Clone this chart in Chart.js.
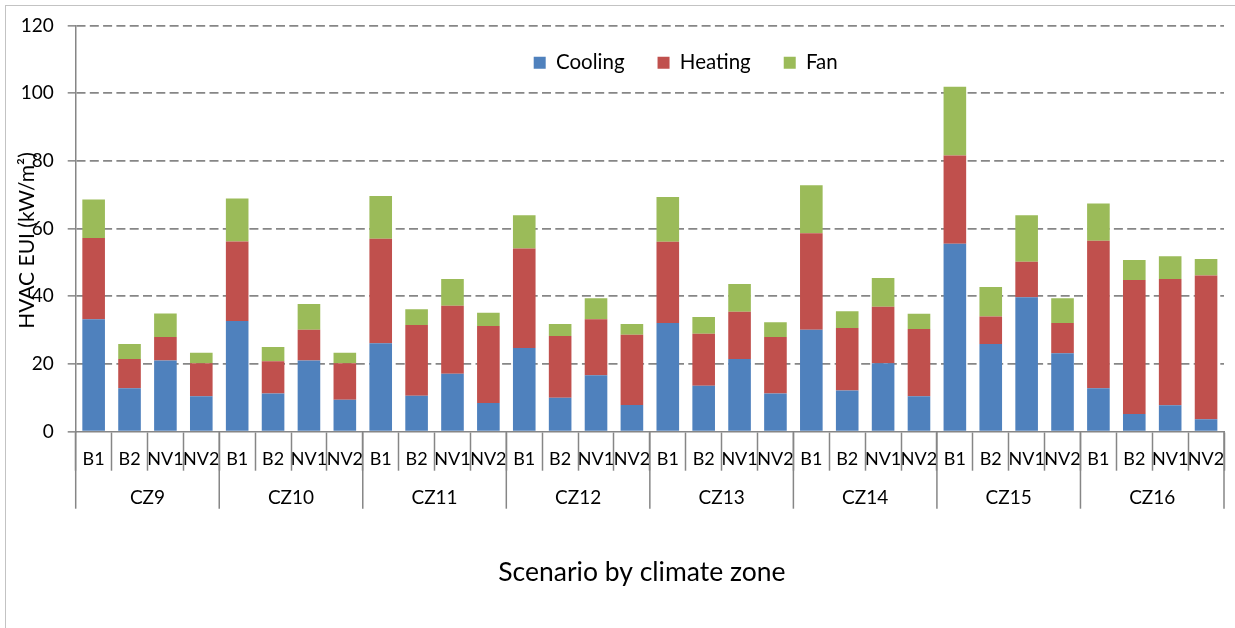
<!DOCTYPE html>
<html>
<head>
<meta charset="utf-8">
<script src="https://cdn.jsdelivr.net/npm/chart.js@4.4.1/dist/chart.umd.min.js"></script>
<style>
html,body{margin:0;padding:0;background:#fff;}
#wrap{position:relative;width:1235px;height:628px;overflow:hidden;background:#fff;}
#frame{position:absolute;left:4.5px;top:5px;width:1260px;height:660px;border-left:1.5px solid #c3c3c3;border-top:1.5px solid #c3c3c3;}
canvas{position:absolute;left:0;top:0;}
</style>
</head>
<body>
<div id="wrap"><div id="frame"></div><canvas id="c" width="1235" height="628"></canvas></div>
<script>
// ---- data ----
const zones = ['CZ9','CZ10','CZ11','CZ12','CZ13','CZ14','CZ15','CZ16'];
const scenarios = ['B1','B2','NV1','NV2'];
// order: for each zone, B1, B2, NV1, NV2
const cooling = [33.2,12.8,21.0,10.5, 32.7,11.3,21.0,9.4, 26.1,10.6,17.1,8.5, 24.7,10.0,16.7,7.9,
                 32.1,13.6,21.5,11.3, 30.1,12.2,20.2,10.5, 55.5,25.9,39.7,23.2, 12.8,5.2,7.8,3.7];
const heating = [24.0,8.7,7.0,9.7, 23.5,9.5,9.1,10.8, 30.9,20.9,20.1,22.7, 29.4,18.3,16.5,20.7,
                 24.0,15.3,13.9,16.7, 28.5,18.4,16.7,19.8, 26.1,8.1,10.5,8.9, 43.6,39.6,37.3,42.4];
const fan     = [11.4,4.4,6.9,3.1, 12.7,4.2,7.6,3.1, 12.6,4.7,7.9,3.9, 9.8,3.5,6.2,3.2,
                 13.2,5.0,8.2,4.3, 14.2,5.0,8.5,4.5, 20.3,8.7,13.7,7.3, 11.0,5.9,6.7,4.9];
const yTicks = [0,20,40,60,80,100,120];

const catLabels = [];
zones.forEach(z => scenarios.forEach(s => catLabels.push(s)));

const FONT = 'Lato, "Open Sans", sans-serif';
const GRID = '#868686';

// shift an axis title by (dx, dy) without changing its text
function shiftTitle(scale, dx, dy) {
  if (scale._titleShifted) return;
  const orig = Object.getPrototypeOf(scale).drawTitle;
  scale.drawTitle = function () {
    this.ctx.save();
    this.ctx.translate(dx, dy);
    orig.call(this);
    this.ctx.restore();
  };
  scale._titleShifted = true;
}

const groupPlugin = {
  id: 'groups',
  afterDraw(chart) {
    const xs = chart.scales.x;
    const ctx = chart.ctx;
    const n = scenarios.length;
    const half = (xs.getPixelForValue(1) - xs.getPixelForValue(0)) / 2;
    ctx.save();
    ctx.strokeStyle = GRID;
    ctx.lineWidth = 1.5;
    for (let g = 0; g <= zones.length; g++) {
      const idx = g * n;
      const px = idx < catLabels.length ? xs.getPixelForValue(idx) - half : xs.getPixelForValue(idx - 1) + half;
      ctx.beginPath();
      ctx.moveTo(px, xs.top);
      ctx.lineTo(px, xs.top + 77);
      ctx.stroke();
    }
    ctx.fillStyle = '#000';
    ctx.font = '19px ' + FONT;
    ctx.textAlign = 'center';
    ctx.textBaseline = 'middle';
    zones.forEach((z, g) => {
      const a = xs.getPixelForValue(g * n), b = xs.getPixelForValue(g * n + n - 1);
      ctx.fillText(z, (a + b) / 2, xs.top + 66);
    });
    ctx.restore();
  }
};

const legendShift = {
  id: 'legendShift',
  afterLayout(chart) {
    const L = chart.legend;
    if (!L || !L.lineWidths) return;
    const pad = L.options.labels.padding;
    const x0 = (L.left + pad + L.right - L.lineWidths[0]) / 2;
    const dx = (chart.chartArea.left + 458) - x0;
    L.left += dx;
    L.right += dx;
    L.top = 52.5 - pad;
    L.bottom = L.top + 100;
  }
};

new Chart(document.getElementById('c'), {
  type: 'bar',
  data: {
    labels: catLabels,
    datasets: [
      { label: 'Cooling', data: cooling, backgroundColor: '#4F81BD' },
      { label: 'Heating', data: heating, backgroundColor: '#C0504D' },
      { label: 'Fan', data: fan, backgroundColor: '#9BBB59' }
    ]
  },
  options: {
    responsive: false,
    animation: false,
    layout: { padding: { left: 8, right: 11, top: 24, bottom: 0 } },
    datasets: { bar: { categoryPercentage: 1, barPercentage: 0.63 } },
    plugins: {
      legend: {
        position: 'top',
        maxHeight: 1,
        labels: { boxWidth: 12, boxHeight: 12, padding: 33, color: '#000', font: { family: FONT, size: 20.5 } }
      },
      tooltip: { enabled: false }
    },
    scales: {
      x: {
        stacked: true,
        offset: true,
        grid: { display: true, drawOnChartArea: false, drawTicks: true, tickLength: 39, tickColor: GRID, tickWidth: 1.5, offset: true },
        border: { display: true, color: GRID, width: 1.5 },
        ticks: { color: '#000', font: { family: FONT, size: 18 }, padding: -22, maxRotation: 0, minRotation: 0, autoSkip: false },
        title: { display: true, text: 'Scenario by climate zone', color: '#000', font: { family: FONT, size: 26.5 }, padding: { top: 0, bottom: 40 } },
        afterFit(s) { s.height = 628 - 431.7; shiftTitle(s, -8, 0); }
      },
      y: {
        stacked: true,
        min: yTicks[0],
        max: yTicks[yTicks.length - 1],
        afterBuildTicks(s) { s.ticks = yTicks.map(v => ({ value: v })); },
        ticks: { color: '#000', font: { family: FONT, size: 19 }, padding: 14 },
        grid: {
          color: c => (c.tick && c.tick.value === 0) ? 'rgba(0,0,0,0)' : GRID,
          lineWidth: 1.7, tickLength: 8, tickColor: GRID, tickWidth: 1.5, tickBorderDash: []
        },
        border: { display: true, color: GRID, width: 1.5, dash: [9, 4.3] },
        title: { display: true, text: 'HVAC EUI (kW/m²)', color: '#000', font: { family: FONT, size: 21 }, padding: { top: 6.4, bottom: 0 } },
        afterFit(s) { s.width = 67.7; shiftTitle(s, 0, 12); }
      }
    }
  },
  plugins: [groupPlugin, legendShift]
});
</script>
</body>
</html>
